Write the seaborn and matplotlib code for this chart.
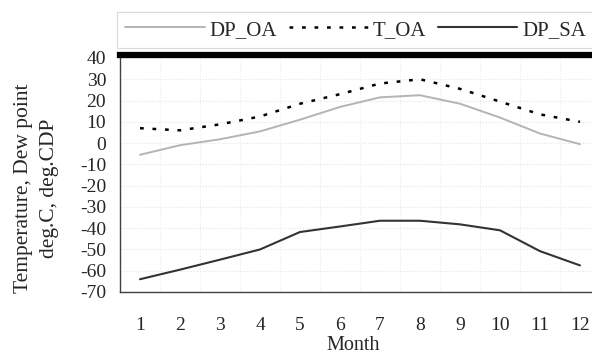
import matplotlib
matplotlib.use("Agg")
import matplotlib.pyplot as plt
import seaborn as sns
import pandas as pd
import numpy as np

# monthly values
months = [1, 2, 3, 4, 5, 6, 7, 8, 9, 10, 11, 12]
dp_oa = [-5.5, -1.0, 1.8, 5.5, 11.0, 17.0, 21.5, 22.5, 18.5, 12.0, 4.5, -0.5]
t_oa = [7.0, 6.0, 8.8, 12.5, 18.5, 23.0, 28.0, 30.0, 25.5, 19.5, 13.5, 10.0]
dp_sa = [-64.0, -59.5, -54.8, -50.0, -41.8, -39.2, -36.5, -36.5, -38.2, -41.0, -50.8, -57.5]

sns.set_style("white")
plt.rcParams['font.family'] = ['Liberation Serif', 'DejaVu Serif']
plt.rcParams['axes.unicode_minus'] = False

df = pd.DataFrame({'Month': months, 'DP_OA': dp_oa, 'T_OA': t_oa, 'DP_SA': dp_sa})

fig = plt.figure(figsize=(5.92, 3.56), dpi=100)
ax = fig.add_axes([120 / 592, 1 - 292 / 356, 480 / 592, 234 / 356])

sns.lineplot(data=df, x='Month', y='DP_OA', ax=ax, color='#b4b4b4', linewidth=1.4, label='DP_OA')
sns.lineplot(data=df, x='Month', y='T_OA', ax=ax, color='black', linewidth=1.8,
             dashes=(1.5, 3.5), label='T_OA')
sns.lineplot(data=df, x='Month', y='DP_SA', ax=ax, color='#333333', linewidth=1.5, label='DP_SA')

ax.set_xlim(0.5, 12.5)
ax.set_ylim(-70, 40)
ax.set_xticks(months)
ax.set_xticks(np.arange(1.5, 12, 1), minor=True)
ax.set_yticks(np.arange(-70, 41, 10))
ax.tick_params(axis='both', which='both', length=0)
ax.tick_params(axis='x', pad=18, labelsize=14)
ax.tick_params(axis='y', pad=10, labelsize=14)
ax.grid(axis='y', which='major', color='#e4e4e4', linestyle=':', linewidth=0.8)
ax.grid(axis='x', which='minor', color='#ececec', linestyle=':', linewidth=0.8)
ax.set_axisbelow(True)

ax.set_xlabel('Month', fontsize=14.5, va='center')
ax.xaxis.set_label_coords((353 - 120) / 480, (292 - 346) / 234)
ax.set_ylabel('')
fig.text(37 / 592, 1 - 188 / 356, 'Temperature, Dew point\ndeg.C, deg.CDP',
         rotation=90, ha='center', va='center', linespacing=1.5, fontsize=15.5)

for side in ['left', 'bottom']:
    ax.spines[side].set_color('#404040')
    ax.spines[side].set_linewidth(1.0)
ax.spines['right'].set_visible(False)
ax.spines['top'].set_color('black')
ax.spines['top'].set_linewidth(4.5)
ax.spines['top'].set_position(('outward', 2))

leg = ax.legend(loc='lower left', bbox_to_anchor=(117 / 592, 1 - 48 / 356),
                bbox_transform=fig.transFigure, borderaxespad=0, ncol=3,
                handlelength=3.8, handletextpad=0.25, columnspacing=0.55,
                borderpad=0.4, frameon=True, fancybox=False, fontsize=15)
leg.get_frame().set_edgecolor('#d0d0d0')
leg.get_frame().set_linewidth(0.8)

fig.savefig('out.png', dpi=100)
